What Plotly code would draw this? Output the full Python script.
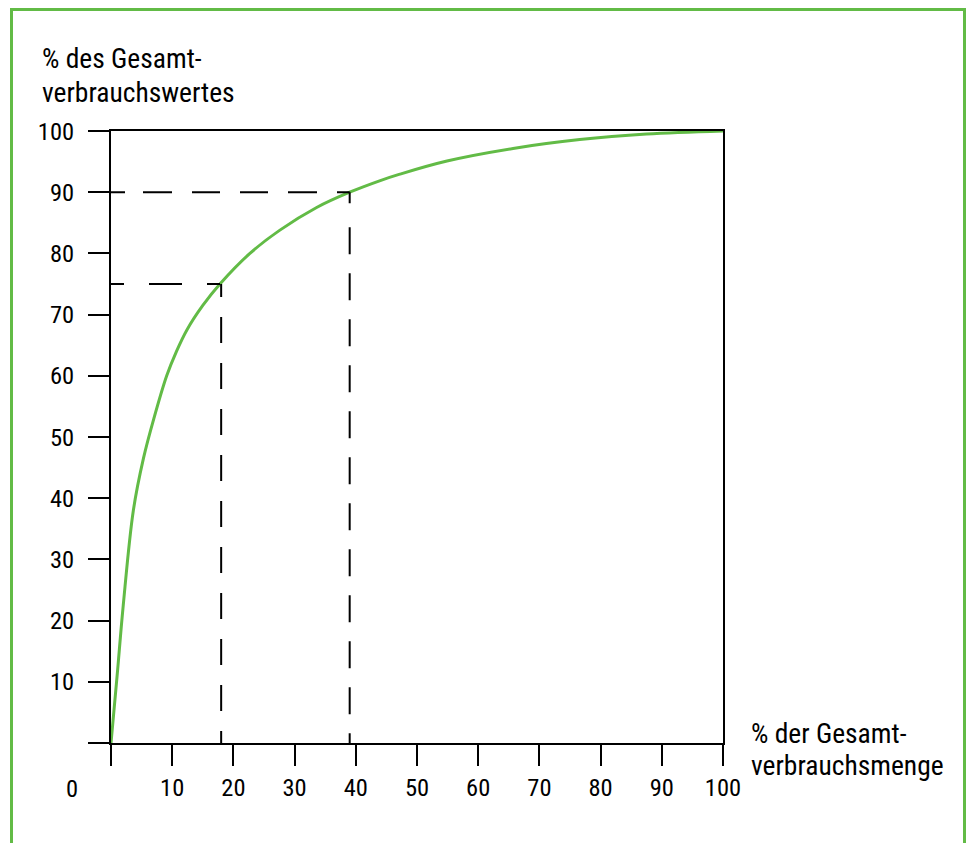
import plotly.graph_objects as go

# Curve data (% of total quantity vs % of total value)
menge = [0, 1.0, 2.0, 3.65, 5.3, 7.0, 9.1, 10.7, 12.4, 15.0, 17.8, 22.7, 27.6, 33.6, 39.0, 44.0, 47.2, 54.9, 65.7, 76.6, 87.5, 100]
wert = [0, 11.0, 22.5, 38.0, 46.5, 53.0, 60.0, 64.0, 67.5, 71.5, 75.0, 80.0, 83.8, 87.5, 90.0, 91.9, 92.95, 95.1, 97.15, 98.6, 99.5, 100]

# Guide lines
guide_x = [18, 39]
guide_y = [75, 90]

tick_vals = [0, 10, 20, 30, 40, 50, 60, 70, 80, 90, 100]
x_tick_text = ["", "10", "20", "30", "40", "50", "60", "70", "80", "90", "100"]
y_tick_text = ["", "10", "20", "30", "40", "50", "60", "70", "80", "90", "100"]

y_title = ["% des Gesamt-", "verbrauchswertes"]
x_title = ["% der Gesamt-", "verbrauchsmenge"]
origin_label = "0"

FONT = "Roboto, sans-serif"
GREEN = "#62bb46"

W, H = 966, 843
L, R, T, B = 111, 243, 131, 100
PW = W - L - R
PH = H - T - B

def px_x(p):
    return (p - L) / PW

def px_y(p):
    return (H - B - p) / PH

fig = go.Figure()
fig.add_trace(go.Scatter(
    x=menge, y=wert, mode="lines",
    line=dict(color=GREEN, width=3, shape="spline", smoothing=1.0),
    hoverinfo="skip", showlegend=False,
))

dash_h = ["13px,25px,33px,25px,13px,200px", "14px,18px,29px,20px,28px,20px,28px,20px,29px,20px,13px,200px"]
dash_v = ["13px,20px" + ",26px,20px" * 9 + ",14px,200px", "11px,24px" + ",27px,19px" * 11 + ",14px,200px"]
for gx, gy, dh, dv in zip(guide_x, guide_y, dash_h, dash_v):
    fig.add_shape(type="line", xref="x", yref="y", x0=0, y0=gy, x1=gx, y1=gy,
                  line=dict(color="black", width=2, dash=dh))
    fig.add_shape(type="line", xref="x", yref="y", x0=gx, y0=gy, x1=gx, y1=0,
                  line=dict(color="black", width=2, dash=dv))

fl, fr, ft, fb = px_x(11.5), px_x(964.5), px_y(9.5), px_y(870)
fig.add_shape(type="path", xref="paper", yref="paper",
              path=f"M {fl},{fb} L {fl},{ft} L {fr},{ft} L {fr},{fb}",
              line=dict(color=GREEN, width=3), layer="below")

tfont = dict(family=FONT, size=27.5, color="black")
fig.add_annotation(text=y_title[0], xref="paper", yref="paper", x=px_x(40), y=px_y(59),
                   xanchor="left", yanchor="middle", showarrow=False, font=tfont)
fig.add_annotation(text=y_title[1], xref="paper", yref="paper", x=px_x(40), y=px_y(92),
                   xanchor="left", yanchor="middle", showarrow=False, font=tfont)
fig.add_annotation(text=x_title[0], xref="paper", yref="paper", x=px_x(749), y=px_y(733),
                   xanchor="left", yanchor="middle", showarrow=False, font=tfont)
fig.add_annotation(text=x_title[1], xref="paper", yref="paper", x=px_x(749), y=px_y(765),
                   xanchor="left", yanchor="middle", showarrow=False, font=tfont)
fig.add_annotation(text=origin_label, xref="paper", yref="paper", x=px_x(72), y=px_y(788),
                   xanchor="center", yanchor="middle", showarrow=False,
                   font=dict(family=FONT, size=24.5, color="black"))

axis_common = dict(
    range=[0, 100], showgrid=False, zeroline=False, showline=True, mirror=True,
    linecolor="black", linewidth=2, ticks="outside", ticklen=21, tickwidth=2,
    tickcolor="black", tickvals=tick_vals,
    tickfont=dict(family=FONT, size=24.5, color="black"), fixedrange=True,
)
fig.update_xaxes(**axis_common, ticktext=x_tick_text, ticklabelstandoff=1)
fig.update_yaxes(**axis_common, ticktext=y_tick_text, ticklabelstandoff=9)

fig.update_layout(
    width=W, height=H, autosize=False,
    margin=dict(l=L, r=R, t=T, b=B, pad=0),
    paper_bgcolor="white", plot_bgcolor="white",
    showlegend=False,
)

# Condensed text rendering; re-plot with a changed family string so that
# text measurements are not taken from the cache of the first render.
post = """
var st=document.createElement('style');
st.textContent='html,body{margin:0;padding:0;overflow:hidden} svg text, text{font-stretch:condensed !important}';
document.head.appendChild(st);
var gd=document.getElementById('{plot_id}');
var lay=JSON.parse(JSON.stringify(gd.layout).split('Roboto, sans-serif').join('Roboto, Liberation Sans, sans-serif'));
Plotly.newPlot(gd, gd.data, lay, {displayModeBar:false});
"""

fig.write_html("out.html", post_script=post, config={"displayModeBar": False})
